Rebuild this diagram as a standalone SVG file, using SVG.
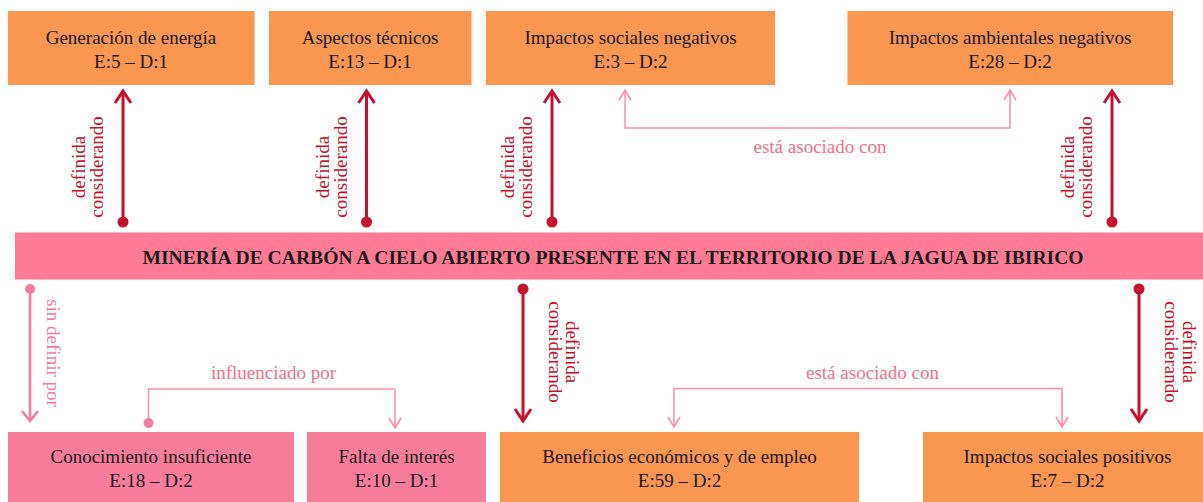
<svg xmlns="http://www.w3.org/2000/svg" width="1203" height="502" viewBox="0 0 1203 502">
<style>
.box{fill:#F9964F;}
.pbox{fill:#F87C9C;}
.bar{fill:#FF7B95;}
.t{font-size:19px;fill:#1a1a1a;text-anchor:middle;}
.bt{font-size:19.6px;font-weight:bold;fill:#1a1a1a;text-anchor:middle;}
.dl{font-size:19px;fill:#C8102E;text-anchor:middle;}
.pl{font-size:19px;fill:#F0708E;text-anchor:middle;}
.sl{font-size:19px;fill:#F27CA0;text-anchor:middle;}
.dark{stroke:#C8102E;stroke-width:3;fill:none;}
.light{stroke:#FF8FA8;stroke-width:1.6;fill:none;}
.mid{stroke:#F27CA0;stroke-width:2.6;fill:none;}
</style>
<defs>
<marker id="ad" markerUnits="userSpaceOnUse" viewBox="-14 -10 16 20" refX="0" refY="0" markerWidth="16" markerHeight="20" orient="auto" overflow="visible">
<path d="M-12,-8 L0,0 L-12,8" stroke="#C8102E" stroke-width="3" fill="none"/>
</marker>
</defs>
<g font-family="Liberation Serif, Times New Roman, DejaVu Serif, serif">
<g id="node-generacion"><rect class="box" x="8" y="11" width="246.5" height="74"/><text class="t" x="131" y="43.5">Generación de energía</text><text class="t" x="131" y="67.5">E:5 – D:1</text></g>
<g id="node-aspectos"><rect class="box" x="269" y="11" width="202.5" height="74"/><text class="t" x="370" y="43.5">Aspectos técnicos</text><text class="t" x="370" y="67.5">E:13 – D:1</text></g>
<g id="node-sociales-neg"><rect class="box" x="486" y="11" width="289" height="74"/><text class="t" x="630.5" y="43.5">Impactos sociales negativos</text><text class="t" x="630.5" y="67.5">E:3 – D:2</text></g>
<g id="node-ambientales-neg"><rect class="box" x="847.5" y="11" width="325.5" height="74"/><text class="t" x="1010" y="43.5">Impactos ambientales negativos</text><text class="t" x="1010" y="67.5">E:28 – D:2</text></g>
<g id="node-mineria"><rect class="bar" x="15" y="232.5" width="1190" height="47"/><text class="bt" x="613" y="264">MINERÍA DE CARBÓN A CIELO ABIERTO PRESENTE EN EL TERRITORIO DE LA JAGUA DE IBIRICO</text></g>
<g id="node-conocimiento"><rect class="pbox" x="8" y="432" width="286" height="75"/><text class="t" x="151" y="463">Conocimiento insuficiente</text><text class="t" x="151" y="487">E:18 – D:2</text></g>
<g id="node-falta"><rect class="pbox" x="307" y="432" width="179" height="75"/><text class="t" x="396.5" y="463">Falta de interés</text><text class="t" x="396.5" y="487">E:10 – D:1</text></g>
<g id="node-beneficios"><rect class="box" x="500" y="432" width="359" height="75"/><text class="t" x="679.5" y="463">Beneficios económicos y de empleo</text><text class="t" x="679.5" y="487">E:59 – D:2</text></g>
<g id="node-sociales-pos"><rect class="box" x="923" y="432" width="290" height="75"/><text class="t" x="1067.5" y="463">Impactos sociales positivos</text><text class="t" x="1067.5" y="487">E:7 – D:2</text></g>
<g id="connectors">
<g class="dark">
<path d="M123,222 V91" marker-end="url(#ad)"/>
<path d="M366.5,222 V91" marker-end="url(#ad)"/>
<path d="M552,222 V91" marker-end="url(#ad)"/>
<path d="M1112,222 V91" marker-end="url(#ad)"/>
<path d="M523,289 V421" marker-end="url(#ad)"/>
<path d="M1139,289 V421" marker-end="url(#ad)"/>
</g>
<g fill="#C8102E">
<circle cx="123" cy="222" r="5.5"/><circle cx="366.5" cy="222" r="5.5"/><circle cx="552" cy="222" r="5.5"/><circle cx="1112" cy="222" r="5.5"/>
<circle cx="523" cy="289" r="5.5"/><circle cx="1139" cy="289" r="5.5"/>
</g>
<path class="mid" d="M30,289 V421 M22,411 L30,421 L38,411"/>
<circle cx="30" cy="289" r="5" fill="#F27CA0"/>
<path class="light" d="M625,90 V128 H1010 V90 M619,100 L625,90 L631,100 M1004,100 L1010,90 L1016,100"/>
<path class="light" d="M674,427 V388.5 H1062 V427 M668,417 L674,427 L680,417 M1056,417 L1062,427 L1068,417"/>
<path class="light" d="M148.5,423 V389 H395 V428 M389,418 L395,428 L401,418"/>
<circle cx="148.5" cy="423" r="5" fill="#F27CA0"/>
<g class="dl">
<g transform="translate(123,167) rotate(-90)"><text x="0" y="-38">definida</text><text x="0" y="-20">considerando</text></g>
<g transform="translate(366.5,167) rotate(-90)"><text x="0" y="-38">definida</text><text x="0" y="-20">considerando</text></g>
<g transform="translate(552,167) rotate(-90)"><text x="0" y="-38">definida</text><text x="0" y="-20">considerando</text></g>
<g transform="translate(1112,167) rotate(-90)"><text x="0" y="-38">definida</text><text x="0" y="-20">considerando</text></g>
<g transform="translate(523,352) rotate(90)"><text x="0" y="-43">definida</text><text x="0" y="-26">considerando</text></g>
<g transform="translate(1139,352) rotate(90)"><text x="0" y="-44">definida</text><text x="0" y="-26">considerando</text></g>
</g>
<text class="sl" transform="translate(30,353) rotate(90)" x="0" y="-17">sin definir por</text>
<text class="pl" x="820" y="153">está asociado con</text>
<text class="pl" x="872.5" y="379">está asociado con</text>
<text class="pl" x="273.5" y="379">influenciado por</text>
</g>
</g>
</svg>
